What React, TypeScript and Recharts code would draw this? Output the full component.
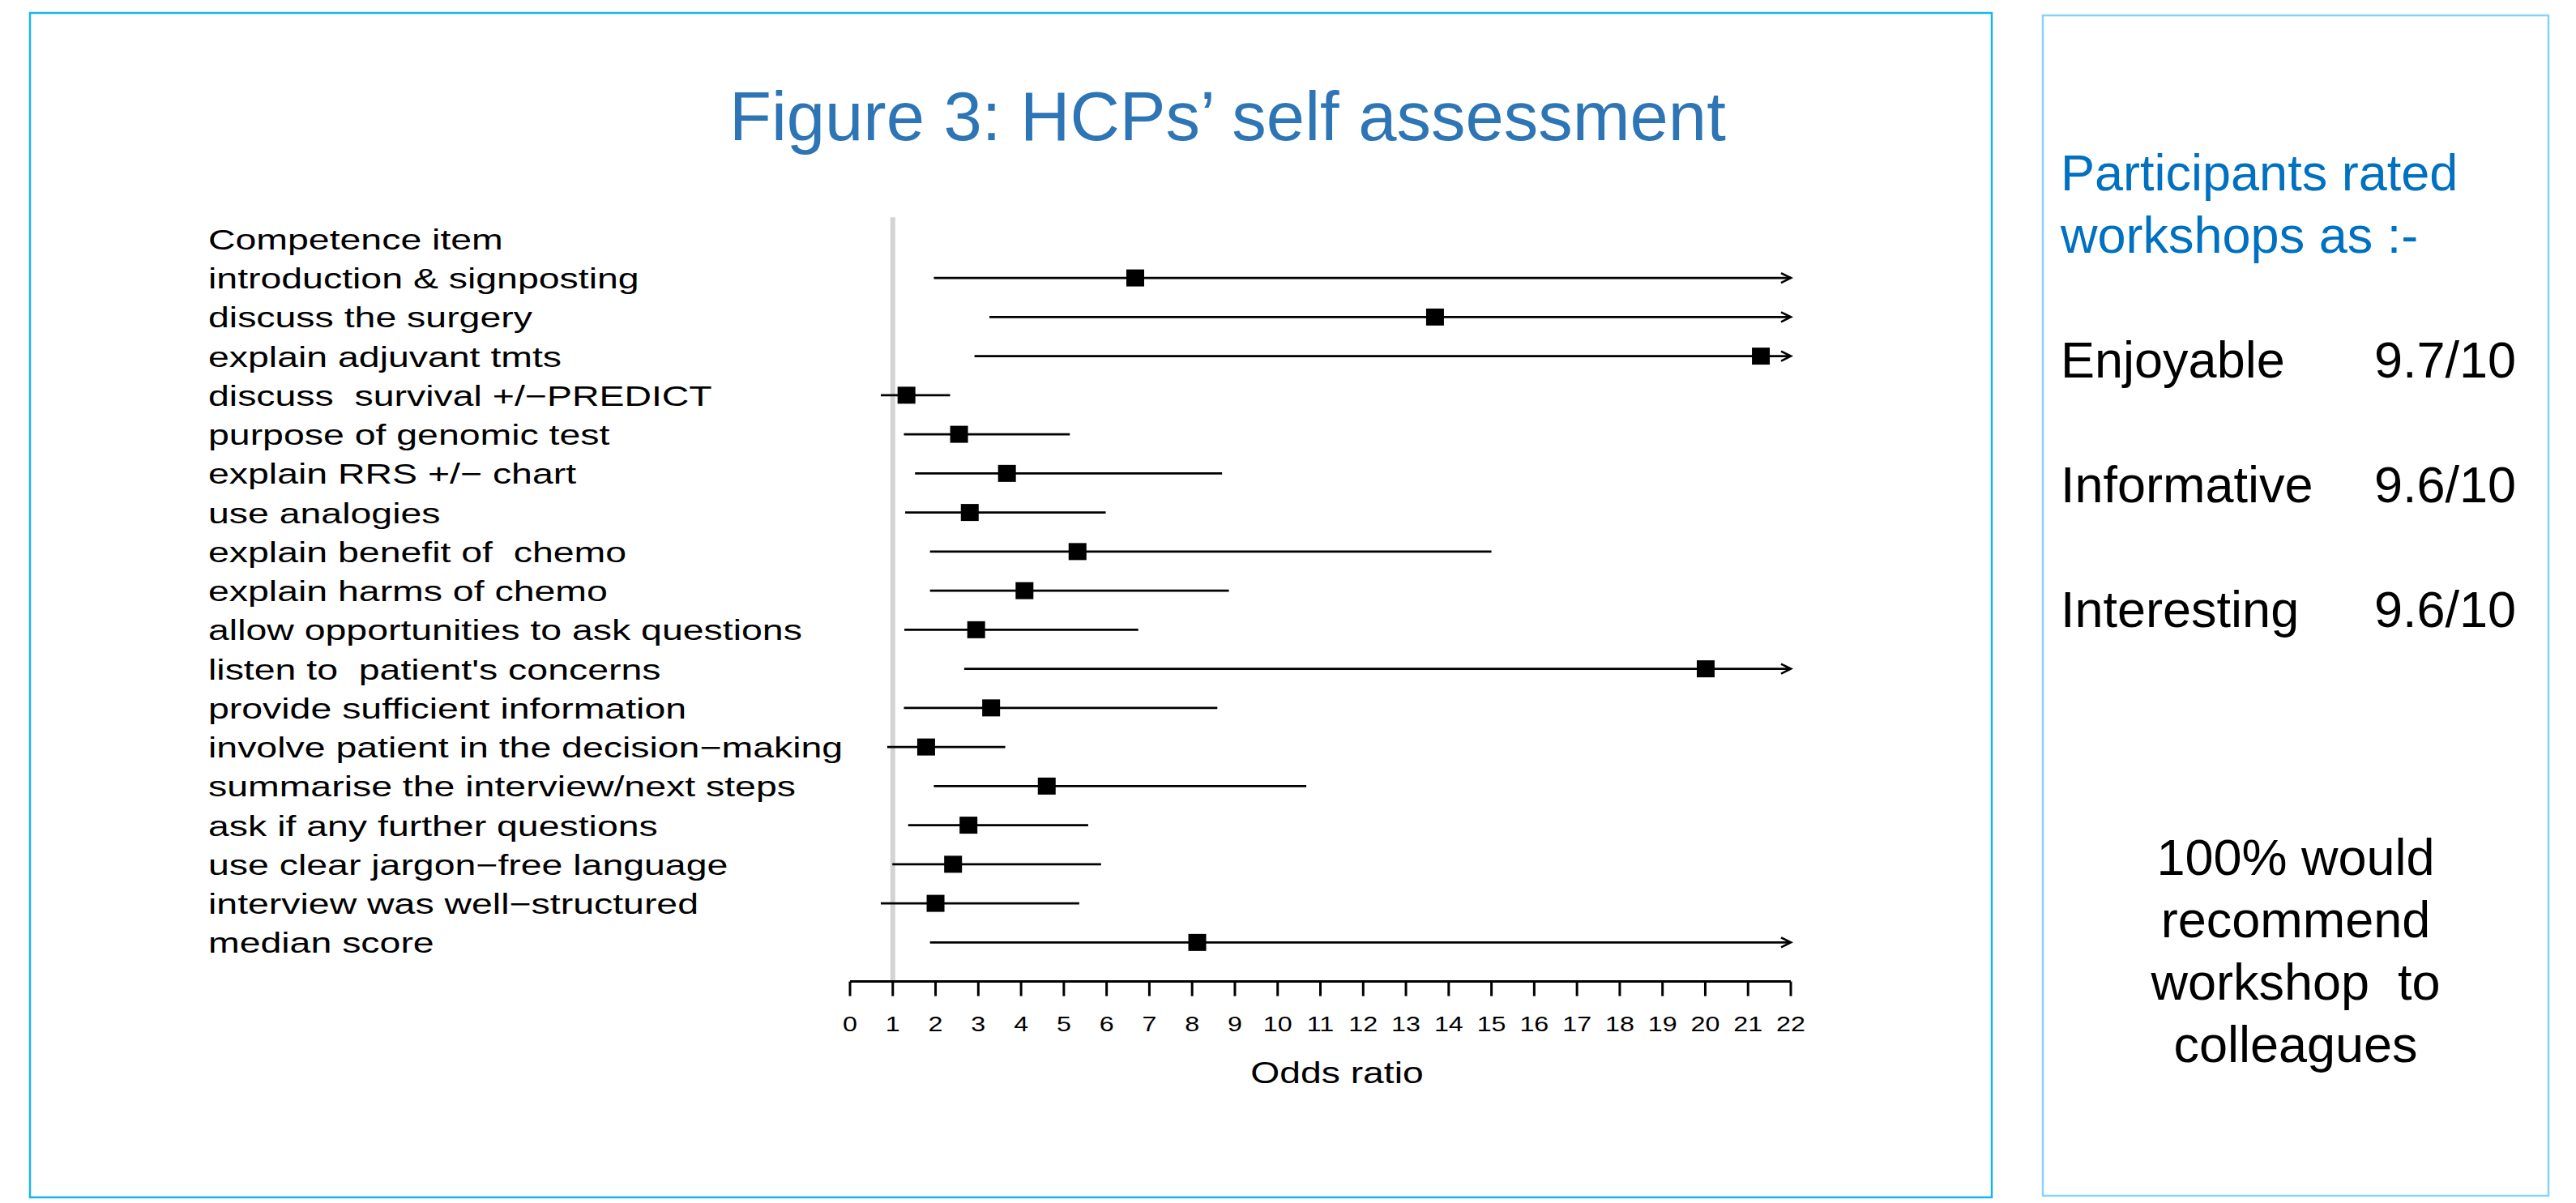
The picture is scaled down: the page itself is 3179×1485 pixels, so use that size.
import React from "react";
import { ScatterChart, Scatter, XAxis, YAxis, ReferenceLine } from "recharts";

const W = 3179;
const H = 1485;
const FONT = "'Liberation Sans', Arial, Helvetica, sans-serif";

// Row labels (index 0 is the column header)
const rowLabels = [
  "Competence item",
  "introduction & signposting",
  "discuss the surgery",
  "explain adjuvant tmts",
  "discuss  survival +/\u2212PREDICT",
  "purpose of genomic test",
  "explain RRS +/\u2212 chart",
  "use analogies",
  "explain benefit of  chemo",
  "explain harms of chemo",
  "allow opportunities to ask questions",
  "listen to  patient's concerns",
  "provide sufficient information",
  "involve patient in the decision\u2212making",
  "summarise the interview/next steps",
  "ask if any further questions",
  "use clear jargon\u2212free language",
  "interview was well\u2212structured",
  "median score",
];

const oddsRatio = [6.67, 13.68, 21.3, 1.32, 2.55, 3.67, 2.8, 5.32, 4.08, 2.95, 20.01, 3.3, 1.78, 4.6, 2.77, 2.41, 2.0, 8.12];
const ciLower = [1.96, 3.26, 2.91, 0.72, 1.26, 1.52, 1.29, 1.87, 1.87, 1.27, 2.67, 1.26, 0.87, 1.96, 1.36, 0.99, 0.72, 1.87];
// upper limits beyond the axis are shown truncated at 22 with an arrow
const ciUpper = [22, 22, 22, 2.34, 5.14, 8.7, 5.98, 15.0, 8.86, 6.74, 22, 8.59, 3.63, 10.67, 5.57, 5.87, 5.36, 22];
const ciTruncated = [true, true, true, false, false, false, false, false, false, false, true, false, false, false, false, false, false, true];

const xTicks = [0, 1, 2, 3, 4, 5, 6, 7, 8, 9, 10, 11, 12, 13, 14, 15, 16, 17, 18, 19, 20, 21, 22];
const yTicks = rowLabels.map((_, i) => i);

const ratingLabels = ["Enjoyable", "Informative", "Interesting"];
const ratingValues = ["9.7/10", "9.6/10", "9.6/10"];
const recommendLines = ["100% would", "recommend", "workshop  to", "colleagues"];

const points = oddsRatio.map((v, i) => ({ row: i + 1, or: v }));

const STRETCH = 1.29;

const YTick = (props: any) => {
  const { y, payload } = props;
  return (
    <text
      transform={`translate(257, ${y + 13}) scale(${STRETCH}, 1)`}
      x={0}
      y={0}
      fontSize={36}
      fontFamily={FONT}
      fill="#000"
      textAnchor="start"
      style={{ whiteSpace: "pre" }}
    >
      {rowLabels[payload.value]}
    </text>
  );
};

const XTick = (props: any) => {
  const { x, y, payload } = props;
  return (
    <text
      transform={`translate(${x}, ${y + 43}) scale(${STRETCH}, 1)`}
      x={0}
      y={0}
      fontSize={25}
      fontFamily={FONT}
      fill="#000"
      textAnchor="middle"
    >
      {payload.value}
    </text>
  );
};

const Square = (p: any) => (
  <rect x={p.cx - 11} y={p.cy - 10.5} width={22} height={21} fill="#000" />
);

const ciShape = (arrow: boolean) => (p: any) => (
  <g>
    <line x1={p.x1} y1={p.y1} x2={p.x2} y2={p.y2} stroke="#000" strokeWidth={2.7} />
    {arrow ? (
      <polyline
        points={`${p.x2 - 12},${p.y2 - 6} ${p.x2},${p.y2} ${p.x2 - 12},${p.y2 + 6}`}
        fill="none"
        stroke="#000"
        strokeWidth={2.7}
      />
    ) : null}
  </g>
);

const OddsLabel = () => (
  <text
    transform={`translate(1650, 1337) scale(1.25, 1)`}
    x={0}
    y={0}
    fontSize={37}
    fontFamily={FONT}
    fill="#000"
    textAnchor="middle"
  >
    Odds ratio
  </text>
);

export default function App() {
  return (
    <div style={{ position: "absolute", left: 0, top: 0, width: W, height: H, background: "#fff" }}>
      <svg width={W} height={H} style={{ position: "absolute", left: 0, top: 0 }}>
        <rect x={37} y={16} width={2421} height={1462} fill="none" stroke="#18B4EC" strokeWidth={2.5} />
        <rect x={2521} y={19} width={624} height={1457} fill="none" stroke="#86D4F4" strokeWidth={2.5} />
        <text x={900} y={173} fontSize={85} fontFamily={FONT} fill="#2E75B6">
          Figure 3: HCPs’ self assessment
        </text>
        <text x={2543} y={235} fontSize={63} fontFamily={FONT} fill="#0070C0">
          Participants rated
        </text>
        <text x={2543} y={312} fontSize={63} fontFamily={FONT} fill="#0070C0">
          workshops as :-
        </text>
        {ratingLabels.map((l, i) => (
          <g key={l}>
            <text x={2543} y={466 + i * 154} fontSize={63} fontFamily={FONT} fill="#000">
              {l}
            </text>
            <text x={2930} y={466 + i * 154} fontSize={63} fontFamily={FONT} fill="#000">
              {ratingValues[i]}
            </text>
          </g>
        ))}
        {recommendLines.map((l, i) => (
          <text
            key={l}
            x={2833}
            y={1080 + i * 77}
            fontSize={63}
            fontFamily={FONT}
            fill="#000"
            textAnchor="middle"
            style={{ whiteSpace: "pre" }}
          >
            {l}
          </text>
        ))}
      </svg>
      <div style={{ position: "absolute", left: 0, top: 0 }}>
        <ScatterChart width={W} height={H} margin={{ top: 246.6, right: 969, bottom: 193.4, left: 249 }}>
          <XAxis
            type="number"
            dataKey="or"
            domain={[0, 22]}
            ticks={xTicks}
            interval={0}
            allowDataOverflow
            height={80}
            tickSize={18}
            tickMargin={0}
            axisLine={{ stroke: "#000", strokeWidth: 3 }}
            tickLine={{ stroke: "#000", strokeWidth: 3 }}
            tick={<XTick />}
            label={{ content: <OddsLabel /> }}
          />
          <YAxis
            type="number"
            dataKey="row"
            domain={[-1, 19]}
            reversed
            ticks={yTicks}
            interval={0}
            allowDataOverflow
            width={800}
            axisLine={false}
            tickLine={false}
            tick={<YTick />}
          />
          <ReferenceLine
            segment={[
              { x: 1, y: -0.55 },
              { x: 1, y: 19 },
            ]}
            stroke="#D3D3D3"
            strokeWidth={6}
          />
          {oddsRatio.map((_, i) => (
            <ReferenceLine
              key={"ci" + i}
              segment={[
                { x: ciLower[i], y: i + 1 },
                { x: ciUpper[i], y: i + 1 },
              ]}
              shape={ciShape(ciTruncated[i])}
            />
          ))}
          <Scatter data={points} dataKey="or" shape={<Square />} isAnimationActive={false} />
        </ScatterChart>
      </div>
    </div>
  );
}
